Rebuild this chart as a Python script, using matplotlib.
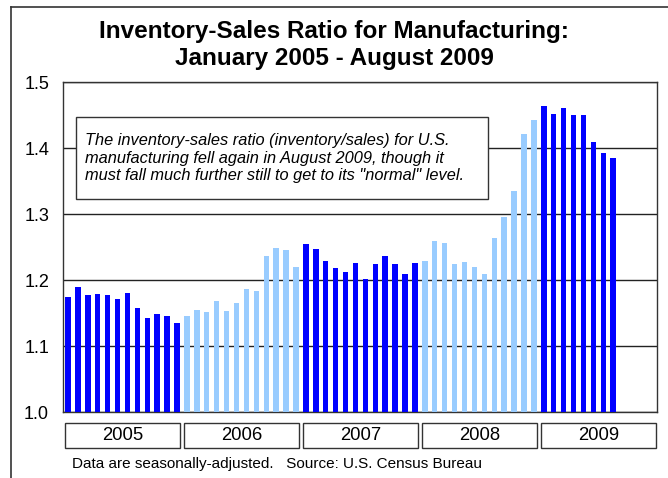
import matplotlib.pyplot as plt
from matplotlib.patches import Rectangle
import matplotlib.transforms as mtransforms

plt.rcParams['font.family'] = ['Liberation Sans', 'DejaVu Sans']

# Monthly inventory-sales ratio, Jan 2005 - Aug 2009
years = ["2005", "2006", "2007", "2008", "2009"]
ratio_2005 = [1.175, 1.190, 1.177, 1.179, 1.177, 1.171, 1.181, 1.157, 1.142, 1.148, 1.146, 1.135]
ratio_2006 = [1.145, 1.154, 1.152, 1.169, 1.153, 1.165, 1.186, 1.183, 1.237, 1.249, 1.246, 1.220]
ratio_2007 = [1.254, 1.247, 1.229, 1.218, 1.213, 1.226, 1.202, 1.224, 1.237, 1.224, 1.209, 1.226]
ratio_2008 = [1.229, 1.260, 1.257, 1.224, 1.227, 1.220, 1.210, 1.264, 1.295, 1.335, 1.421, 1.443]
ratio_2009 = [1.464, 1.452, 1.461, 1.450, 1.451, 1.409, 1.392, 1.385]
yearly = [ratio_2005, ratio_2006, ratio_2007, ratio_2008, ratio_2009]

dark = "#0000FF"
light = "#99CCFF"

fig = plt.figure(figsize=(6.68, 4.78), dpi=100)
ax = fig.add_axes([0.0943, 0.138, 0.889, 0.690])

for k, vals in enumerate(yearly):
    xs = [12 * k + i for i in range(len(vals))]
    color = dark if k % 2 == 0 else light
    ax.bar(xs, [v - 1.0 for v in vals], bottom=1.0, width=0.55, color=color, zorder=3)

ax.set_xlim(-0.5, 59.4)
ax.set_ylim(1.0, 1.5)
ax.set_yticks([1.0, 1.1, 1.2, 1.3, 1.4, 1.5])
ax.set_yticklabels(["1.0", "1.1", "1.2", "1.3", "1.4", "1.5"], fontsize=13)
ax.set_xticks([])
ax.tick_params(axis="y", length=0, pad=10)
ax.grid(axis="y", color="#222222", linewidth=1.0, zorder=0)
for s in ax.spines.values():
    s.set_color("#333333")
    s.set_linewidth(1.0)

# year boxes under the axis
trans = mtransforms.blended_transform_factory(ax.transData, ax.transAxes)
for k, yr in enumerate(years):
    x0 = 12 * k - 0.3
    ax.add_patch(Rectangle((x0, -0.109), 11.6, 0.076, transform=trans,
                           fill=False, edgecolor="#333333", linewidth=1.0, clip_on=False))
    ax.text(x0 + 5.8, -0.071, yr, transform=trans, ha="center", va="center", fontsize=13.3)

# note box
ax.add_patch(Rectangle((0.0219, 0.645), 0.6936, 0.249, transform=ax.transAxes,
                       facecolor="white", edgecolor="#333333", linewidth=1.0, zorder=5))
ax.text(0.037, 0.770,
        "The inventory-sales ratio (inventory/sales) for U.S.\n"
        "manufacturing fell again in August 2009, though it\n"
        "must fall much further still to get to its \"normal\" level.",
        transform=ax.transAxes, ha="left", va="center", fontsize=11.8, style="italic",
        linespacing=1.2, zorder=6)

fig.text(0.5, 0.906, "Inventory-Sales Ratio for Manufacturing:\nJanuary 2005 - August 2009",
         ha="center", va="center", fontsize=17.5, fontweight="bold", linespacing=1.25)
fig.text(0.108, 0.030, "Data are seasonally-adjusted.   Source: U.S. Census Bureau",
         ha="left", va="center", fontsize=11)

# outer frame (cropped on the right and bottom)
fig.add_artist(plt.Line2D([0.0165, 0.0165], [0.0, 0.985], color="#333333", linewidth=1.2))
fig.add_artist(plt.Line2D([0.0165, 1.0], [0.985, 0.985], color="#333333", linewidth=1.2))

fig.savefig("out.png", dpi=100)
